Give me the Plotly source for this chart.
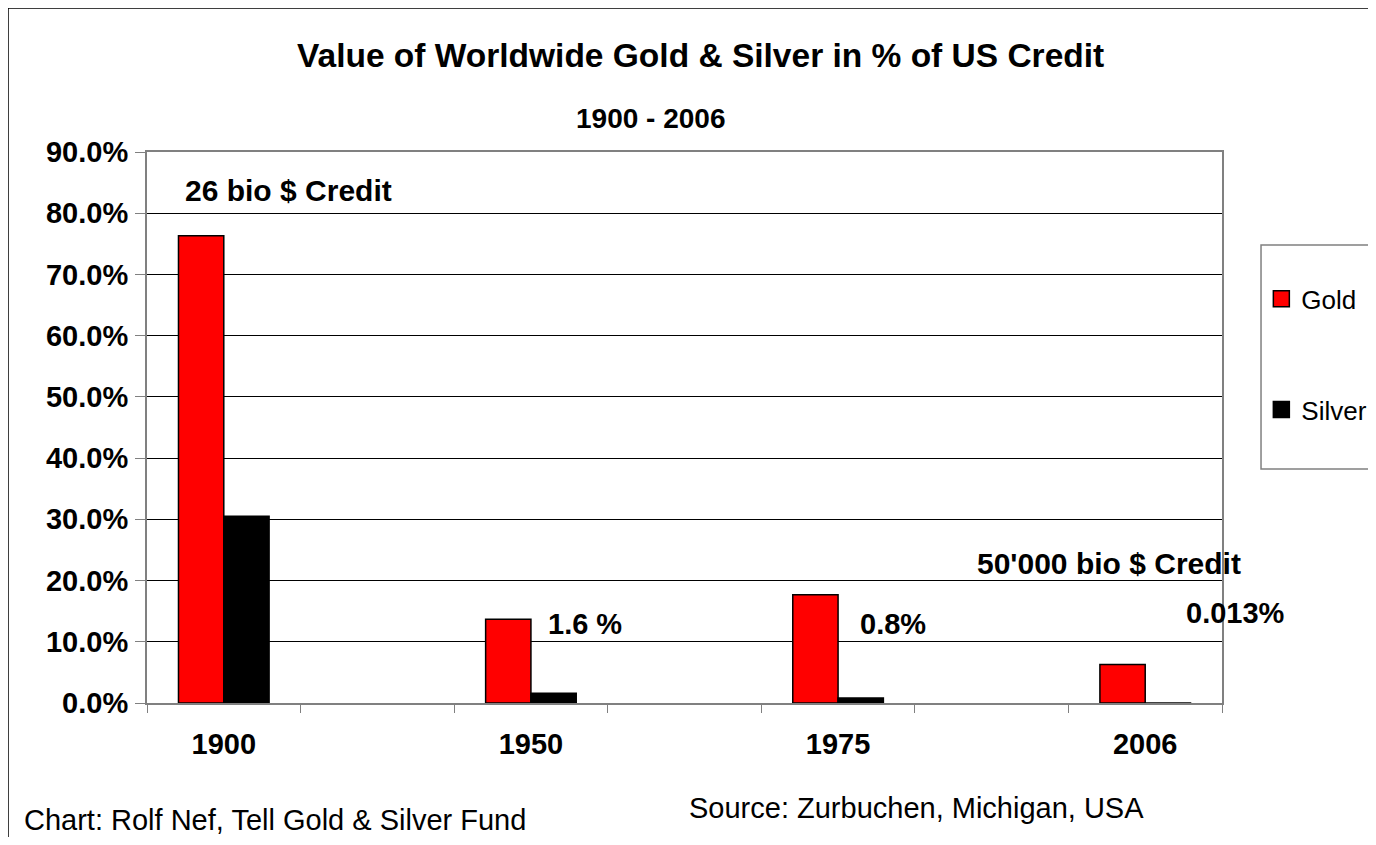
import plotly.graph_objects as go

# chart data (percent of US credit)
categories = ["1900", " ", "1950", "  ", "1975", "   ", "2006"]
gold = [76.3, None, 13.7, None, 17.7, None, 6.3]
silver = [30.5, None, 1.6, None, 0.8, None, 0.013]

title_text = "Value of Worldwide Gold & Silver in % of US Credit"
subtitle_text = "1900 - 2006"
notes = ["26 bio $ Credit", "1.6 %", "0.8%", "50'000 bio $ Credit", "0.013%"]
footer_left = "Chart: Rolf Nef, Tell Gold & Silver Fund"
footer_right = "Source: Zurbuchen, Michigan, USA"

FONT = "Liberation Sans, Arial, sans-serif"
GOLD_COL = "#ff0000"
SILVER_COL = "#000000"

fig = go.Figure()
fig.add_trace(go.Bar(
    x=categories, y=gold, name="Gold", showlegend=False,
    marker=dict(color=GOLD_COL, line=dict(color="black", width=1.5)),
))
fig.add_trace(go.Bar(
    x=categories, y=silver, name="Silver", showlegend=False,
    marker=dict(color=SILVER_COL, line=dict(color="black", width=1.5)),
))
# legend entries with bigger square keys
for name, col in [("Gold", GOLD_COL), ("Silver", SILVER_COL)]:
    fig.add_trace(go.Scatter(
        x=[None], y=[None], mode="markers", name=name, legendgroup=name,
        marker=dict(symbol="square", size=16, color=col, line=dict(color="black", width=1.5)),
    ))

# the page body adds an 8px margin, so the figure is 16px smaller
# and the margins are shifted by 8px (keeps the page from scrolling)
fig.update_layout(
    width=1368, height=829,
    margin=dict(l=139, r=154, t=144, b=134, autoexpand=False),
    paper_bgcolor="white", plot_bgcolor="white",
    barmode="group", bargap=0.41, bargroupgap=0,
    font=dict(family=FONT, color="black"),
    showlegend=True,
    legend=dict(
        x=1.0366, y=0.776, xanchor="left", yanchor="top",
        borderwidth=0, bgcolor="rgba(0,0,0,0)",
        font=dict(size=26, family=FONT),
        traceorder="grouped", tracegroupgap=74,
        itemsizing="trace",
    ),
    xaxis=dict(
        type="category", tickson="boundaries",
        ticks="outside", ticklen=8, tickcolor="#808080",
        showline=True, linecolor="#808080", linewidth=2, mirror=True,
        showgrid=False,
        tickfont=dict(size=29, family=FONT, weight=700),
        ticklabelstandoff=14,
    ),
    yaxis=dict(
        range=[0, 90], dtick=10, tickformat=".1f", ticksuffix="%",
        ticks="outside", ticklen=10, tickcolor="#808080",
        showline=True, linecolor="#808080", linewidth=2, mirror=True,
        showgrid=True, gridcolor="black", gridwidth=1,
        zeroline=False,
        tickfont=dict(size=29, family=FONT, weight=700),
        ticklabelstandoff=1,
    ),
)

def label(text, x, y, size=30, bold=True, xanchor="left"):
    fig.add_annotation(
        text=text, x=x, y=y, xref="paper", yref="paper",
        xanchor=xanchor, yanchor="middle", showarrow=False,
        font=dict(size=size, family=FONT, color="black", weight=700 if bold else 400),
    )

label(title_text, 0.5153, 1.176, size=33.5, xanchor="center")
label(subtitle_text, 0.4688, 1.06, size=28, xanchor="center")
label(notes[0], 0.0335, 0.931)
label(notes[1], 0.3712, 0.1434, size=29)
label(notes[2], 0.6614, 0.1434, size=29)
label(notes[3], 0.7702, 0.2523)
label(notes[4], 0.9647, 0.1633, size=29)
label(footer_left, -0.1163, -0.2123, size=29, bold=False)
label(footer_right, 0.5023, -0.1906, size=29, bold=False)

# outer chart frame and legend box
fig.add_shape(type="rect", xref="paper", yref="paper",
              x0=-0.1293, x1=1.3, y0=-0.4, y1=1.2613,
              line=dict(color="black", width=1.5), layer="below")
fig.add_shape(type="rect", xref="paper", yref="paper",
              x0=1.0363, x1=1.2, y0=0.4247, y1=0.8312,
              line=dict(color="#808080", width=1.5), layer="below")

fig.write_html("out.html")
